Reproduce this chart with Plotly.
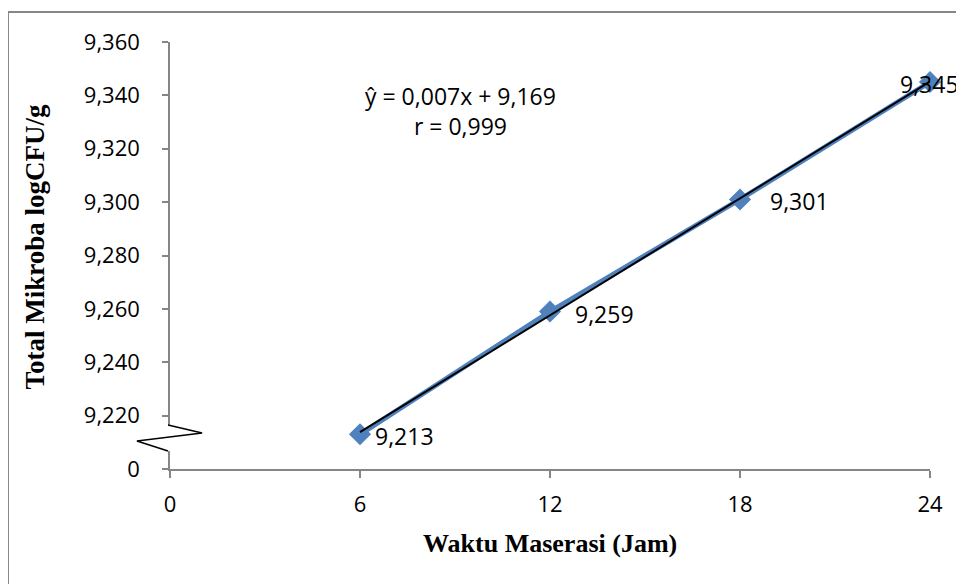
import numpy as np
import plotly.graph_objects as go

# data
waktu = [6, 12, 18, 24]                      # Waktu Maserasi (Jam)
total_mikroba = [9.213, 9.259, 9.301, 9.345]  # log CFU/g
x_ticks = [0, 6, 12, 18, 24]
y_ticks = [9.20, 9.22, 9.24, 9.26, 9.28, 9.30, 9.32, 9.34, 9.36]
y_tick_text = ["0", "9,220", "9,240", "9,260", "9,280", "9,300", "9,320", "9,340", "9,360"]
persamaan = "ŷ = 0,007x + 9,169"
korelasi = "r = 0,999"

# label nudges (px) so they sit like the Excel data labels
label_shift = [13, 23, 28, -32]

AXIS_GREY = "#868686"
BLUE = "#4F81BD"

# linear trendline from the data
slope, intercept = np.polyfit(waktu, total_mikroba, 1)
trend_x = np.array([waktu[0], waktu[-1]])
trend_y = slope * trend_x + intercept

fig = go.Figure()

fig.add_trace(go.Scatter(
    x=waktu, y=total_mikroba,
    mode="lines+markers",
    line=dict(color=BLUE, width=5),
    marker=dict(symbol="diamond", size=17, color=BLUE),
    cliponaxis=False,
    showlegend=False,
    hoverinfo="x+y",
))

fig.add_trace(go.Scatter(
    x=trend_x, y=trend_y,
    mode="lines",
    line=dict(color="black", width=2),
    cliponaxis=False,
    showlegend=False,
    hoverinfo="skip",
))

# data labels
for xv, yv, dx in zip(waktu, total_mikroba, label_shift):
    fig.add_annotation(
        x=xv, y=yv,
        text=f"{yv:.3f}".replace(".", ","),
        showarrow=False,
        xanchor="left", yanchor="middle",
        xshift=dx, yshift=-2,
        font=dict(family="Open Sans", size=23, color="black"),
    )

# regression equation
fig.add_annotation(
    xref="paper", yref="paper",
    x=0.3816, y=0.838,
    text=f"{persamaan}<br>{korelasi}",
    showarrow=False,
    align="center",
    xanchor="center", yanchor="middle",
    font=dict(family="Open Sans", size=23, color="black"),
)

# axis titles
fig.add_annotation(
    xref="paper", yref="paper",
    x=0.5, y=-0.1756,
    text="<b>Waktu Maserasi (Jam)</b>",
    showarrow=False,
    xanchor="center", yanchor="middle",
    font=dict(family="Liberation Serif", size=26, color="black"),
)
fig.add_annotation(
    xref="paper", yref="paper",
    x=-0.177, y=0.522,
    text="<b>Total Mikroba logCFU/g</b>",
    textangle=-90,
    showarrow=False,
    xanchor="center", yanchor="middle",
    font=dict(family="Liberation Serif", size=27, color="black"),
)

# axis break: white gap over the y axis line, then the zigzag
fig.add_shape(
    type="rect", xref="paper", yref="paper",
    x0=-0.006, x1=0.006, y0=0.0422, y1=0.103,
    line=dict(width=0), fillcolor="white", layer="above",
)
fig.add_shape(
    type="path", xref="paper", yref="paper",
    path="M -0.0026,0.103 L 0.0422,0.0843 L -0.0435,0.0656 L -0.0026,0.0422",
    line=dict(color="black", width=1.5), layer="above",
)

# chart-area border
fig.add_shape(
    type="rect", xref="paper", yref="paper",
    x0=-0.2132, x1=1.2, y0=-0.5, y1=1.0703,
    line=dict(color=AXIS_GREY, width=2), layer="below",
)

fig.update_xaxes(
    range=[0, 24],
    tickvals=x_ticks,
    ticktext=[str(v) for v in x_ticks],
    showgrid=False, zeroline=False,
    showline=True, linecolor=AXIS_GREY, linewidth=1.5,
    ticks="outside", ticklen=7, tickcolor=AXIS_GREY, tickwidth=1.5,
    ticklabelstandoff=8,
    tickfont=dict(family="Open Sans", size=22, color="black"),
)
fig.update_yaxes(
    range=[9.20, 9.36],
    tickvals=y_ticks,
    ticktext=y_tick_text,
    showgrid=False, zeroline=False,
    showline=True, linecolor=AXIS_GREY, linewidth=1.5,
    ticks="outside", ticklen=6, tickcolor=AXIS_GREY, tickwidth=1.5,
    ticklabelstandoff=18,
    tickfont=dict(family="Open Sans", size=22, color="black"),
)

# the page body adds an 8px margin, so the figure is a bit smaller
# and its margins are shifted to land the plot where the reference has it
fig.update_layout(
    width=956, height=576,
    margin=dict(l=162, r=34, t=34, b=115),
    paper_bgcolor="white",
    plot_bgcolor="white",
    showlegend=False,
)

fig.write_html("out.html")
